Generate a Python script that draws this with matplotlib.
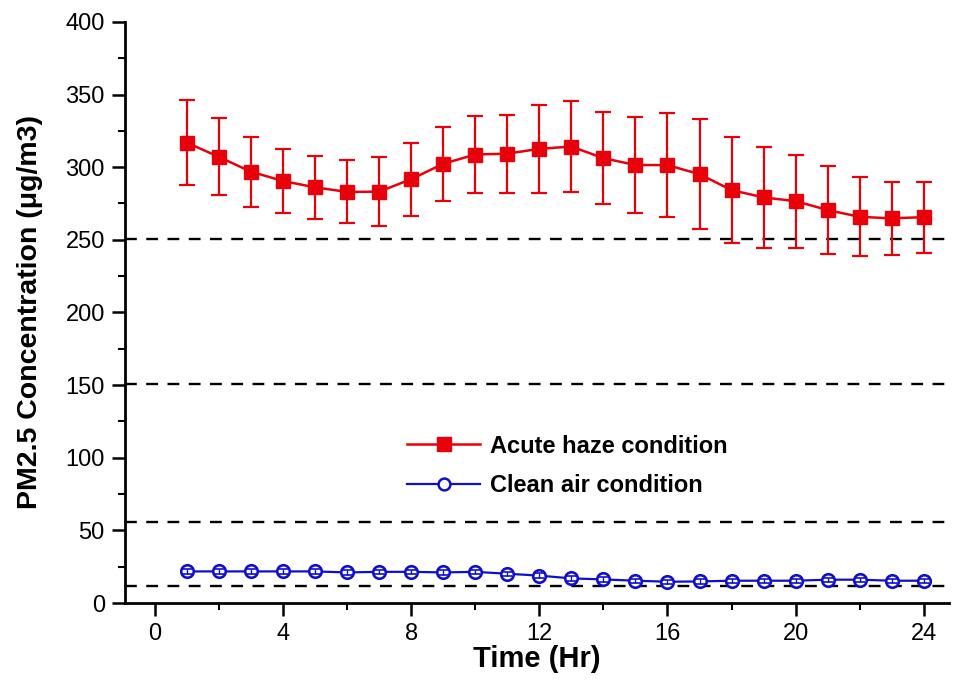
import matplotlib
matplotlib.use("Agg")
import matplotlib.pyplot as plt
from matplotlib.lines import Line2D
from matplotlib.ticker import MultipleLocator

plt.rcParams['font.family'] = ['Liberation Sans', 'DejaVu Sans']

hours = list(range(1, 25))

haze_mean = [316.9, 307.1, 296.9, 290.5, 286.1, 283.0, 283.1, 291.7, 302.3, 308.7,
             309.3, 312.6, 314.2, 306.2, 301.5, 301.4, 295.2, 284.2, 279.2, 276.6,
             270.5, 265.8, 264.8, 265.6]
haze_err = [29.0, 26.6, 24.0, 22.2, 21.5, 21.6, 23.8, 25.0, 25.3, 26.2,
            26.8, 30.2, 31.6, 31.6, 33.2, 35.6, 37.7, 36.6, 34.6, 32.1,
            30.0, 27.1, 25.2, 24.4]

clean_mean = [21.8, 21.8, 21.8, 21.8, 21.8, 21.1, 21.5, 21.5, 21.1, 21.5,
              20.2, 18.9, 17.0, 16.3, 15.4, 14.7, 14.9, 15.4, 15.4, 15.4,
              16.1, 16.1, 15.4, 15.4]
clean_err = [1.5] * 24

# AQI breakpoints drawn as dashed reference lines
thresholds = [12.0, 55.5, 150.5, 250.5]

red = '#e8000b'
blue = '#1010cc'

fig = plt.figure(figsize=(9.61, 6.83), dpi=100)
ax = fig.add_axes([0.130, 0.117, 0.858, 0.851])

for t in thresholds:
    ax.axhline(t, color='black', linestyle=(0, (5, 4)), linewidth=1.7, zorder=1)

# Acute haze series with error bars
ax.errorbar(hours, haze_mean, yerr=haze_err, color=red, marker='s', markersize=10.5,
            linewidth=1.8, elinewidth=1.6, capsize=5.5, capthick=1.6, zorder=3)

# Clean air series: open circles, small error bars drawn over the markers
ax.plot(hours, clean_mean, color=blue, marker='o', markersize=9,
        markerfacecolor='white', markeredgecolor=blue, markeredgewidth=1.9,
        linewidth=1.6, zorder=3)
ax.errorbar(hours, clean_mean, yerr=clean_err, fmt='none', ecolor=blue,
            elinewidth=1.0, capsize=3.5, capthick=1.2, zorder=4)

ax.set_xlim(-0.93, 24.8)
ax.set_ylim(0, 400)
ax.xaxis.set_major_locator(MultipleLocator(4))
ax.xaxis.set_minor_locator(MultipleLocator(2))
ax.yaxis.set_major_locator(MultipleLocator(50))
ax.yaxis.set_minor_locator(MultipleLocator(25))

for side in ['top', 'right']:
    ax.spines[side].set_visible(False)
for side in ['left', 'bottom']:
    ax.spines[side].set_linewidth(2)

ax.tick_params(axis='both', which='major', direction='out', length=9.5, width=1.8,
               labelsize=17, colors='black', pad=5)
ax.tick_params(axis='both', which='minor', direction='out', length=5, width=1.5)

ax.set_xlabel('Time (Hr)', fontsize=21, fontweight='bold', labelpad=0)
ax.set_ylabel('PM2.5 Concentration (μg/m3)', fontsize=20.5, fontweight='bold',
              labelpad=16)

handles = [
    Line2D([], [], color=red, marker='s', markersize=10, linewidth=1.8),
    Line2D([], [], color=blue, marker='o', markersize=8.5, markerfacecolor='white',
           markeredgecolor=blue, markeredgewidth=1.8, linewidth=1.6),
]
labels = ['Acute haze condition', 'Clean air condition']
ax.legend(handles, labels, loc='center left', bbox_to_anchor=(0.342, 0.236),
          frameon=False, borderpad=0, borderaxespad=0,
          prop={'weight': 'bold', 'size': 17}, handlelength=3.1,
          handletextpad=0.4, labelspacing=0.7)

fig.savefig('out.png', dpi=100)
